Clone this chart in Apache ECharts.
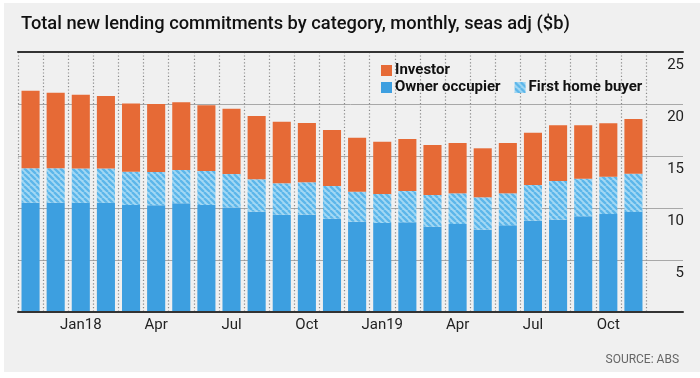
<!DOCTYPE html>
<html>
<head>
<meta charset="utf-8">
<script src="https://cdn.jsdelivr.net/npm/echarts@6/dist/echarts.min.js"></script>
<style>
html,body{margin:0;padding:0;background:#fff;}
#chart{width:700px;height:378px;}
</style>
</head>
<body>
<div id="chart"></div>
<script>
// ---- data ----
const months = ['Nov 2017','Dec 2017','Jan 2018','Feb 2018','Mar 2018','Apr 2018','May 2018','Jun 2018','Jul 2018','Aug 2018','Sep 2018','Oct 2018','Nov 2018','Dec 2018','Jan 2019','Feb 2019','Mar 2019','Apr 2019','May 2019','Jun 2019','Jul 2019','Aug 2019','Sep 2019','Oct 2019','Nov 2019'];
const tickLabels = ['','','Jan18','','','Apr','','','Jul','','','Oct','','','Jan19','','','Apr','','','Jul','','','Oct',''];
const ownerOccupier = [10.51,10.51,10.50,10.50,10.29,10.26,10.45,10.29,10.06,9.65,9.36,9.36,8.97,8.68,8.56,8.62,8.20,8.46,7.92,8.33,8.78,8.88,9.20,9.42,9.62];
const firstHomeBuyer = [3.31,3.31,3.30,3.30,3.20,3.20,3.20,3.27,3.21,3.11,3.01,3.11,3.15,2.89,2.79,3.01,3.05,2.95,3.11,3.08,3.43,3.72,3.62,3.59,3.68];
const investor = [7.46,7.27,7.10,6.97,6.57,6.54,6.51,6.31,6.28,6.09,5.93,5.70,5.38,5.19,5.03,5.00,4.81,4.84,4.71,4.84,5.03,5.35,5.13,5.13,5.26];
const yTicks = [0,5,10,15,20,25];

// ---- styles ----
const FONT = 'Roboto';
const ORANGE = '#e66a36';
const BLUE = '#3d9fe0';

function makeHatch(){
  const s = 6;
  const c = document.createElement('canvas');
  c.width = s; c.height = s;
  const g = c.getContext('2d');
  g.fillStyle = '#a3d8f4';
  g.fillRect(0,0,s,s);
  g.strokeStyle = '#5cb6ea';
  g.lineWidth = 2.3;
  g.beginPath();
  for (const k of [-s,0,s]) { g.moveTo(k,0); g.lineTo(k+s,s); }
  g.stroke();
  return c;
}
const hatch = {image: makeHatch(), repeat: 'repeat'};

const chart = echarts.init(document.getElementById('chart'), null, {renderer:'canvas'});
chart.setOption({
  animation: false,
  backgroundColor: '#ffffff',
  graphic: [{
    type: 'rect', z: -10, silent: true,
    shape: {x: 4, y: 3, width: 696, height: 369},
    style: {fill: '#f0f0f0'}
  }],
  title: [{
    text: 'Total new lending commitments by category, monthly, seas adj ($b)',
    left: 16, top: 10,
    textStyle: {fontFamily: FONT, fontSize: 18.3, fontWeight: 500, color: '#111'}
  }, {
    text: 'SOURCE: ABS',
    right: 16, top: 349,
    textStyle: {fontFamily: FONT, fontSize: 12, fontWeight: 400, color: '#666'}
  }],
  legend: [{
    data: ['Investor'],
    left: 376, top: 58,
    itemWidth: 11, itemHeight: 11, itemGap: 14,
    icon: 'rect',
    textStyle: {fontFamily: FONT, fontSize: 15, fontWeight: 'bold', color: '#111', padding: [0,0,0,-2]}
  }, {
    data: ['Owner occupier', 'First home buyer'],
    left: 376, top: 75,
    itemWidth: 11, itemHeight: 11, itemGap: 14,
    icon: 'rect',
    textStyle: {fontFamily: FONT, fontSize: 15, fontWeight: 'bold', color: '#111', padding: [0,0,0,-2]}
  }],
  grid: [
    {left: 18, right: 54, top: 52, bottom: 66},
    {left: 18, right: 17, top: 52, bottom: 66}
  ],
  xAxis: [{
    type: 'category', gridIndex: 0, data: months, boundaryGap: true,
    axisLine: {show: false}, axisTick: {show: false},
    splitLine: {show: true, interval: 0, lineStyle: {color: '#8a8a8a', width: 1.2, type: [1.2, 2.2]}},
    axisLabel: {
      interval: 0, margin: 6,
      fontFamily: FONT, fontSize: 15, color: '#222',
      formatter: (v, i) => tickLabels[i]
    }
  }, {
    type: 'value', gridIndex: 1, min: 0, max: 1, position: 'bottom', z: 10,
    axisLine: {show: true, lineStyle: {color: '#333', width: 2}},
    axisTick: {show: false}, axisLabel: {show: false}, splitLine: {show: false}
  }, {
    type: 'value', gridIndex: 1, min: 0, max: 1, position: 'top', z: 10,
    axisLine: {show: true, lineStyle: {color: '#333', width: 2}},
    axisTick: {show: false}, axisLabel: {show: false}, splitLine: {show: false}
  }],
  yAxis: [{
    type: 'value', gridIndex: 0, min: 0, max: 25, interval: 5, show: false,
    splitLine: {show: false}
  }, {
    type: 'value', gridIndex: 1, min: yTicks[0], max: yTicks[yTicks.length-1], interval: 5,
    position: 'right',
    axisLine: {show: false}, axisTick: {show: false},
    splitLine: {show: true, lineStyle: {color: '#a8a8a8', width: 1}},
    axisLabel: {
      inside: true, margin: -1, verticalAlign: 'top', padding: [6,0,0,0],
      showMinLabel: false,
      fontFamily: FONT, fontSize: 15, color: '#222'
    }
  }],
  series: [{
    name: 'Owner occupier', type: 'bar', stack: 'total', xAxisIndex: 0, yAxisIndex: 0,
    data: ownerOccupier, barCategoryGap: '28%',
    itemStyle: {color: BLUE}
  }, {
    name: 'First home buyer', type: 'bar', stack: 'total', xAxisIndex: 0, yAxisIndex: 0,
    data: firstHomeBuyer, barCategoryGap: '28%',
    itemStyle: {color: hatch}
  }, {
    name: 'Investor', type: 'bar', stack: 'total', xAxisIndex: 0, yAxisIndex: 0,
    data: investor, barCategoryGap: '28%',
    itemStyle: {color: ORANGE}
  }]
});
</script>
</body>
</html>
